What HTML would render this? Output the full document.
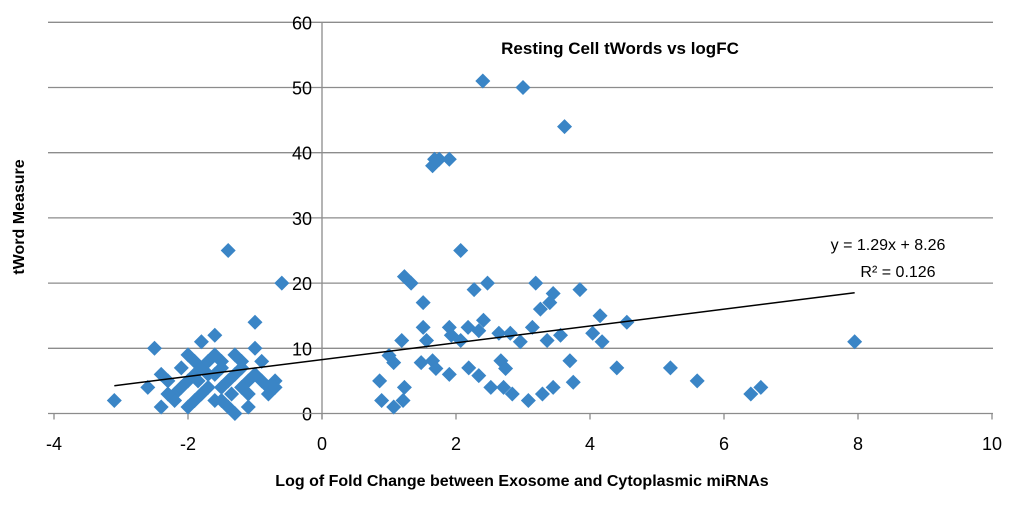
<!DOCTYPE html>
<html><head><meta charset="utf-8"><style>
body{margin:0;background:#fff;width:1024px;height:517px;overflow:hidden}
svg{display:block;font-family:"Liberation Sans",Calibri,sans-serif}
</style></head><body>
<svg id="chart" width="1024" height="517">
<g id="grid"></g>
<g id="axes"></g>
<g id="pts"></g>
<g id="trend"></g>
<text x="620" y="54" text-anchor="middle" font-size="17" font-weight="bold" fill="#000">Resting Cell tWords vs logFC</text>
<text x="888" y="250" text-anchor="middle" font-size="16" fill="#000">y = 1.29x + 8.26</text>
<text x="898" y="277" text-anchor="middle" font-size="16" fill="#000">R² = 0.126</text>
<text x="522" y="486" text-anchor="middle" font-size="16" font-weight="bold" fill="#000">Log of Fold Change between Exosome and Cytoplasmic miRNAs</text>
<text transform="translate(24,217) rotate(-90)" text-anchor="middle" font-size="16" font-weight="bold" fill="#000">tWord Measure</text>
</svg>
<script>
const xTicks=[-4,-2,0,2,4,6,8,10];
const yTicks=[0,10,20,30,40,50,60];
const xVals=[-3.1,-2.5,-1.4,-0.6,-1,-1.6,-1.8,-2.6,-2.4,-2.2,-2.0,-1.9,-1.7,-1.5,-1.3,-1.2,-1.1,-1.0,-0.9,-0.8,-0.7,-0.8,-1.4,-1.6,-1.9,-2.1,-2.3,-2.0,-1.5,-1.3,-1.8,-1.1,-0.9,-2.4,-2.2,-1.7,-1.3,-1.0,-1.5,-2.0,
-1.8,-1.6,-1.4,-1.2,-2.1,-1.9,-1.7,-1.5,-1.1,-0.7,-2.3,-1.6,-1.2,-1.85,-1.35,
2.07,1.23,1.33,1.51,2.27,2.47,3.19,3.85,3.45,3.4,3.26,4.15,4.04,4.18,1.51,1.56,1.19,1.9,1.93,2.18,2.07,2.41,2.34,2.64,2.81,2.96,3.14,3.36,3.56,
1.0,1.07,0.86,1.48,1.65,1.7,1.9,2.19,2.34,2.67,2.74,3.7,3.75,4.4,1.23,2.52,2.71,2.84,3.29,3.45,3.08,0.89,1.07,1.21,
1.65,1.75,1.68,1.9,2.4,3.0,3.62,4.55,5.2,5.6,6.4,6.55,7.95];
const yVals=[2,10,25,20,14,12,11,4,1,3,5,8,6,4,9,7,3,10,5,4,5,3,1,2,2,7,5,9,8,6,3,1,8,6,2,4,0,6,2,1,
7,6,5,8,4,6,8,7,5,4,3,9,4,5,3,
25,21,20,17,19,20,20,19,18.4,17,16,15,12.3,11,13.2,11.2,11.2,13.2,12,13.2,11.2,14.3,12.7,12.3,12.3,11,13.2,11.2,12,
8.9,7.8,5,7.8,8.1,6.9,6,7,5.8,8.1,6.9,8.1,4.8,7,4,4,4,3,3,4,2,2,1,2,
38,39,39,39,51,50,44,14,7,5,3,4,11];
const slope=1.29, intercept=8.26, trendRange=[-3.1,7.95];
const NS="http://www.w3.org/2000/svg";
const X=v=>322+v*67, Y=v=>413.5-v*6.52;
function mk(p,t,a){const e=document.createElementNS(NS,t);for(const k in a)e.setAttribute(k,a[k]);document.getElementById(p).appendChild(e);return e;}
yTicks.forEach(t=>{
 if(t>0){const g=mk('grid','line',{x1:48,x2:993,y1:Y(t),y2:Y(t),stroke:'#8c8c8c','stroke-width':1.3});
 
 }
 const l=mk('axes','text',{x:312,y:Y(t)+7,'text-anchor':'end','font-size':18,fill:'#000'});l.textContent=t;
 
 
});
const xa=mk('axes','line',{x1:48,x2:993,y1:Y(0),y2:Y(0),stroke:'#8c8c8c','stroke-width':1.3});


const ya=mk('axes','line',{x1:X(0),x2:X(0),y1:Y(60),y2:Y(0)+6,stroke:'#8c8c8c','stroke-width':1.3});


xTicks.forEach(t=>{
 mk('axes','line',{x1:X(t),x2:X(t),y1:Y(0),y2:Y(0)+6,stroke:'#8c8c8c','stroke-width':1.3});
 const l=mk('axes','text',{x:X(t),y:450,'text-anchor':'middle','font-size':18,fill:'#000'});l.textContent=t;
 
 
});
xVals.forEach((x,i)=>{
 const cx=X(x),cy=Y(yVals[i]),r=7.5;
 const p=mk('pts','polygon',{points:`${cx},${cy-r} ${cx+r},${cy} ${cx},${cy+r} ${cx-r},${cy}`,fill:'#3a85c6'});
 
 
});
const tl=mk('trend','line',{x1:X(trendRange[0]),y1:Y(slope*trendRange[0]+intercept),x2:X(trendRange[1]),y2:Y(slope*trendRange[1]+intercept),stroke:'#000','stroke-width':1.5});


</script>
</body></html>
